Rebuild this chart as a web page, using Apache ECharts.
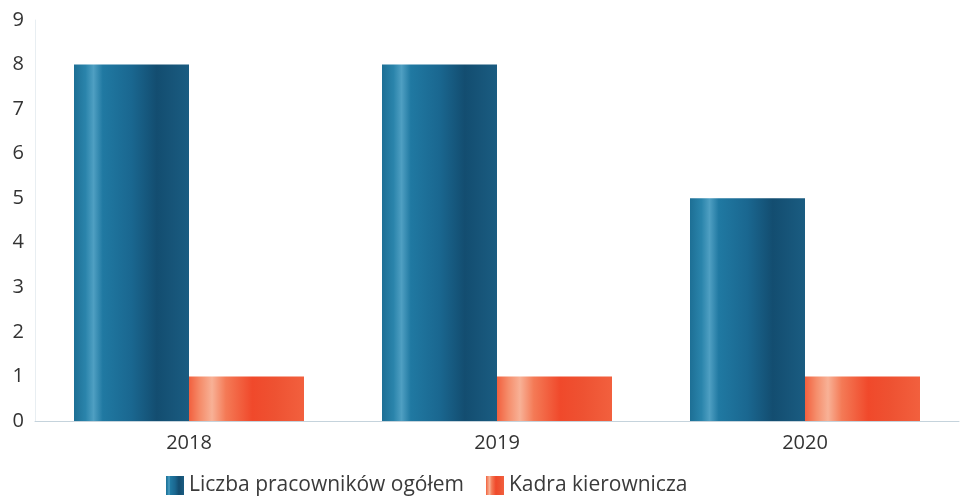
<!DOCTYPE html>
<html>
<head>
<meta charset="utf-8">
<script src="https://cdn.jsdelivr.net/npm/echarts@6/dist/echarts.min.js"></script>
<style>
  html, body { margin: 0; padding: 0; background: #ffffff; }
  #chart { width: 962px; height: 500px; }
</style>
</head>
<body>
<div id="chart"></div>
<script>
// Employment figures per year
var years = ['2018', '2019', '2020'];
var totalStaff = [8, 8, 5];
var management = [1, 1, 1];
var seriesNames = ['Liczba pracowników ogółem', 'Kadra kierownicza'];

// Cylinder-like horizontal shading for the bars
var blueFill = new echarts.graphic.LinearGradient(0, 0, 1, 0, [
  { offset: 0.00, color: '#1d6f95' },
  { offset: 0.10, color: '#2a84ab' },
  { offset: 0.17, color: '#4f9fc2' },
  { offset: 0.25, color: '#2079a2' },
  { offset: 0.50, color: '#1a6790' },
  { offset: 0.72, color: '#134d70' },
  { offset: 1.00, color: '#1a5c81' }
]);
var orangeFill = new echarts.graphic.LinearGradient(0, 0, 1, 0, [
  { offset: 0.00, color: '#f2603e' },
  { offset: 0.10, color: '#f58e6c' },
  { offset: 0.20, color: '#f8b196' },
  { offset: 0.32, color: '#f47a56' },
  { offset: 0.55, color: '#f0492b' },
  { offset: 0.75, color: '#ee5232' },
  { offset: 1.00, color: '#f2603e' }
]);

var chart = echarts.init(document.getElementById('chart'));
chart.setOption({
  animation: false,
  textStyle: { fontFamily: 'Open Sans' },
  grid: { left: 35, right: 3, top: 20, bottom: 79 },
  legend: {
    top: 470,
    left: 161,
    icon: 'rect',
    itemWidth: 18,
    itemHeight: 19,
    itemGap: 22,
    textStyle: { fontSize: 21, color: '#3a3a3a', fontFamily: 'Open Sans' },
    data: seriesNames
  },
  xAxis: {
    type: 'category',
    data: years,
    axisLine: { lineStyle: { color: '#c5d3dc', width: 1 } },
    axisTick: { show: false },
    axisLabel: { fontSize: 20, color: '#333333', margin: 12 }
  },
  yAxis: {
    type: 'value',
    min: 0,
    max: 9,
    interval: 1,
    axisLine: { show: true, lineStyle: { color: '#e8eef2' } },
    axisTick: { show: false },
    splitLine: { show: false },
    axisLabel: { fontSize: 20, color: '#333333', margin: 11 }
  },
  series: [
    {
      name: seriesNames[0],
      type: 'bar',
      data: totalStaff,
      barWidth: 115,
      barGap: '0%',
      itemStyle: { color: blueFill }
    },
    {
      name: seriesNames[1],
      type: 'bar',
      data: management,
      barWidth: 115,
      barGap: '0%',
      itemStyle: { color: orangeFill }
    }
  ]
});
</script>
</body>
</html>
